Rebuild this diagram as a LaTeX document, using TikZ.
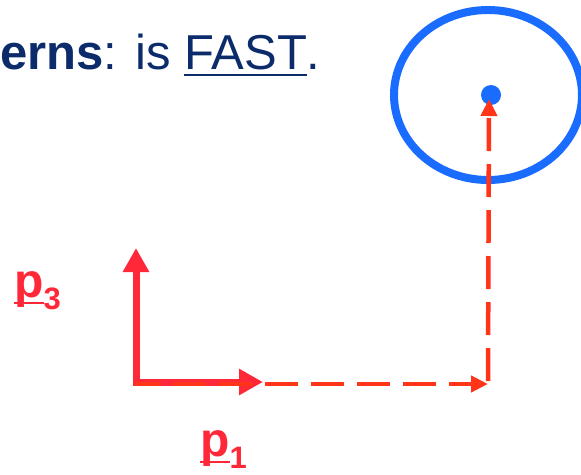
\documentclass[tikz,border=0pt]{standalone}
\usepackage{fontspec}
\setmainfont{Liberation Sans}
\usetikzlibrary{arrows.meta,positioning}
\definecolor{navy}{HTML}{0B2B6B}
\definecolor{vecred}{HTML}{FF2838}
\definecolor{pathred}{HTML}{FF3418}
\definecolor{goalblue}{HTML}{1A6CFF}
\newcommand{\ulword}[1]{\sbox0{#1}\rlap{\rule[-0.15em]{\wd0}{0.05em}}\usebox0}
\newcommand{\subnum}[1]{\raisebox{-0.25em}{\fontsize{31}{31}\selectfont\bfseries #1}}

\begin{document}
\begin{tikzpicture}[
  x=1pt, y=-1pt,
  title/.style={font=\fontsize{49}{56}\selectfont, text=navy, inner sep=0pt},
  lbl/.style={font=\fontsize{48}{56}\selectfont\bfseries, text=vecred, inner sep=0pt},
  basis/.style={-{Triangle[length=24pt, width=25pt]}, line width=7pt, vecred},
  walk/.style={-{Triangle[length=17pt, width=16pt]}, line width=4.5pt, pathred,
    dash pattern=on 33pt off 13pt},
  goal/.style={draw=goalblue, line width=8pt},
  dot/.style={circle, fill=goalblue, inner sep=0pt, minimum size=20pt}
]
\useasboundingbox (0,0) rectangle (581,474);

% ── heading ──────────────────────────────────────────────────────────────
\node[title, anchor=base west] (head) at (0,69) {\textbf{erns}: is \ulword{FAST}.};

% ── goal region ──────────────────────────────────────────────────────────
\draw[goal] (488,95) ellipse [x radius=94, y radius=85];
\node[dot] (target) at (491,95) {};

% ── basis vectors ────────────────────────────────────────────────────────
\coordinate (o3) at (136,385.5);
\coordinate (o1) at (132.5,382);
\coordinate (e3) at (136,248);
\coordinate (e1) at (263,382);
\draw[basis] (o3) -- (e3);
\draw[basis] (o1) -- (e1);
\node[lbl, anchor=base west] (p3) at (14,297) {\ulword{p}\subnum{3}};
\node[lbl, anchor=base west] (p1) at (200,456) {\ulword{p}\subnum{1}};

% ── dashed walk ──────────────────────────────────────────────────────────
\coordinate (w0) at (135,384);
\coordinate (corner) at (488,384);
\coordinate (up) at (488,381);
\coordinate (tip) at (489,99);
\draw[walk, dash phase=8pt] (w0) -- (corner);
\draw[walk] (up) -- (tip);

\end{tikzpicture}
\end{document}
